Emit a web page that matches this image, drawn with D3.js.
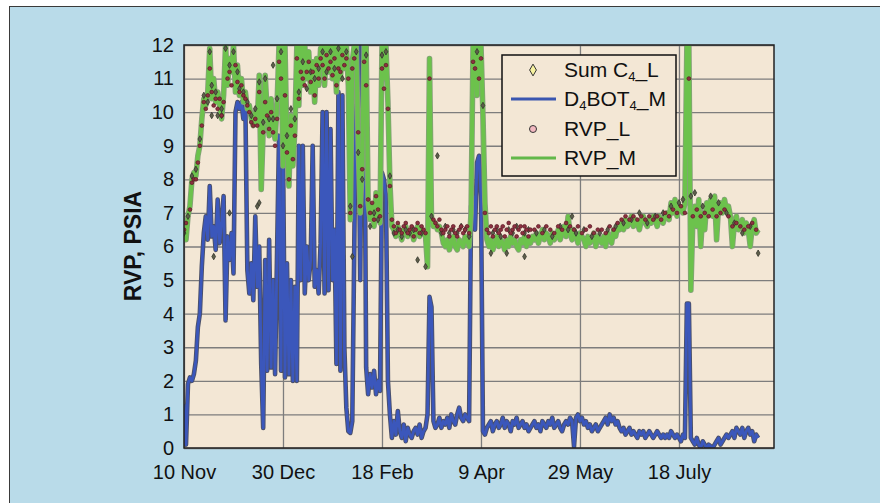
<!DOCTYPE html>
<html>
<head>
<meta charset="utf-8">
<script src="https://cdn.jsdelivr.net/npm/d3@7"></script>
<style>
  body { margin: 0; background: #fff; }
  svg { display: block; font-family: "Liberation Sans", Arial, Helvetica, sans-serif; }
  .axis text { fill: #111; font-size: 20px; }
  .axis .tick line { stroke: #7d7d7d; stroke-width: 1.3; }
  .axis .domain { display: none; }
</style>
</head>
<body>
<div id="chart"></div>
<script>
// day 0 = 10 Nov, one reading per day
var startDate = new Date(2002, 10, 10);
var tickDays = [0, 50, 100, 150, 200, 250];
var tickLabels = ["10 Nov", "30 Dec", "18 Feb", "9 Apr", "29 May", "18 July"];
var yTicks = [0, 1, 2, 3, 4, 5, 6, 7, 8, 9, 10, 11, 12];

// RVP_M (green line)
var rvpM = [
  6.6, 6.2, 6.9, 7.2, 8.0, 8.2, 8.1, 8.7, 9.0, 9.8,
  10.4, 10.2, 10.6, 11.9, 10.4, 11.0, 10.3, 10.6, 10.2, 9.8,
  10.5, 12.0, 10.8, 11.6, 11.2, 12.0, 10.6, 11.4, 10.5, 11.0,
  10.3, 10.6, 10.1, 10.2, 9.8, 9.6, 10.0, 9.7, 11.1, 7.7,
  9.5, 11.1, 10.0, 9.3, 10.4, 9.6, 9.2, 10.2, 12.0, 12.0,
  8.4, 12.0, 9.0, 7.8, 9.9, 8.4, 9.5, 12.0, 10.2, 12.0,
  10.8, 12.0, 11.0, 11.8, 10.6, 11.5, 10.3, 11.6, 10.8, 11.9,
  12.0, 10.8, 12.0, 11.2, 12.0, 11.0, 12.0, 10.6, 12.0, 11.0,
  12.0, 11.3, 12.0, 10.8, 6.8, 11.5, 12.0, 12.0, 9.0, 7.0,
  8.5, 12.0, 12.0, 7.3, 6.8, 7.2, 6.6, 7.6, 7.0, 6.7,
  12.0, 11.0, 12.0, 10.3, 7.9, 6.6, 6.5, 6.3, 6.6, 6.4,
  6.2, 6.5, 6.6, 6.3, 6.4, 6.5, 6.2, 6.4, 6.6, 6.3,
  6.5, 6.4, 6.3, 5.4, 11.6, 6.8, 6.6, 6.7, 6.5, 6.6,
  6.4, 6.1, 6.0, 6.2, 5.9, 6.1, 6.3, 6.0, 5.9, 6.2,
  6.1, 6.0, 6.3, 6.2, 6.0, 7.0, 12.0, 12.0, 10.5, 12.0,
  12.0, 9.9, 7.3, 6.2, 6.0, 6.2, 5.9, 6.1, 6.3, 6.0,
  6.2, 6.1, 5.9, 6.2, 6.0, 6.3, 6.1, 6.2, 6.0, 5.9,
  6.2, 6.1, 6.3, 6.0, 6.2, 6.1, 6.3, 6.2, 6.4, 6.1,
  6.3, 6.5, 6.2, 6.4, 6.3, 6.1, 6.4, 6.2, 6.3, 6.5,
  6.2, 6.4, 6.6, 6.3, 6.9, 6.4, 6.2, 6.5, 6.3, 6.1,
  6.4, 6.3, 6.2, 6.0, 6.3, 6.1, 6.2, 6.4, 6.0, 6.3,
  6.2, 6.1, 6.3, 6.0, 6.4, 6.2, 6.1, 6.5, 6.3, 6.6,
  6.5, 6.7, 6.5, 6.8, 6.6, 6.7, 6.9, 6.6, 6.8, 6.7,
  6.5, 6.8, 6.9, 6.7, 6.6, 6.8, 6.7, 6.9, 6.8, 6.6,
  6.9, 6.8, 6.7, 6.9, 7.0, 6.8, 7.3, 7.0, 7.4, 6.9,
  7.2, 7.1, 7.0, 7.3, 12.0, 12.0, 4.7, 6.8, 7.2, 6.6,
  7.4, 6.0, 7.0, 6.5, 7.3, 7.0, 7.4, 6.9, 7.5, 6.2,
  7.2, 7.3, 7.0, 7.4, 7.1, 7.2, 6.9, 6.0, 6.7, 6.9,
  6.5, 6.6, 6.8, 6.4, 6.7, 6.5, 6.0, 6.6, 6.8, 6.4, 6.5
];

// D4BOT4_M (blue line)
var d4bot4M = [
  1.3, 0.1, 1.9, 2.1, 2.0, 2.2, 2.6, 3.6, 4.0, 5.4,
  6.4, 6.9, 6.2, 7.8, 6.3, 6.6, 5.9, 7.4, 6.1, 6.7,
  7.5, 3.8, 6.3, 5.6, 6.4, 5.2, 10.0, 10.3, 10.1, 10.3,
  9.8, 10.2, 5.3, 4.6, 5.5, 4.4, 6.9, 4.8, 6.0, 2.5,
  0.6, 5.6, 2.3, 6.2, 2.4, 5.0, 2.2, 5.8, 9.3, 2.3,
  9.0, 2.1, 5.5, 2.2, 5.0, 2.0, 4.8, 2.0, 9.0, 5.0,
  9.0, 4.6, 6.0, 5.0, 5.6, 9.0, 4.8, 5.3, 4.6, 6.1,
  10.0, 4.6, 10.0, 4.7, 9.5, 5.0, 6.5, 2.5, 10.6, 2.3,
  10.5, 3.0, 1.2, 0.5, 0.45, 0.8, 6.0, 12.0, 12.0, 5.0,
  12.0, 12.0, 2.4, 1.6, 2.2, 1.8, 2.3, 1.6, 2.0, 1.7,
  8.2, 8.0, 7.5, 2.0, 1.0, 0.3, 0.8, 0.4, 1.1, 0.5,
  0.3, 0.7, 0.2, 0.6, 0.4, 0.3, 0.5, 0.6, 0.4, 0.7,
  0.3, 0.5, 0.6, 1.0, 4.5, 4.2, 0.8, 0.6, 0.7, 0.9,
  0.6, 0.8, 0.7, 0.9, 0.6, 1.0, 0.8, 0.7, 1.0, 1.2,
  0.9, 0.8, 1.0, 0.9, 0.8, 7.2, 7.5, 6.5, 8.5, 8.7,
  7.5, 0.5, 0.4, 0.6, 0.7, 0.8, 0.5, 0.7, 0.8, 0.6,
  0.7, 0.9, 0.6, 0.8, 0.7, 0.5, 0.8, 0.7, 0.9, 0.6,
  0.7, 0.8, 0.6, 0.7, 0.5, 0.6, 0.7, 0.8, 0.6, 0.7,
  0.5, 0.8, 0.7, 0.6, 0.8, 0.7, 0.9, 0.6, 0.7, 0.8,
  0.6, 0.5, 0.7, 0.8, 0.7, 0.9, 0.8, 0.05, 0.9, 1.0,
  0.8, 0.9, 0.7, 0.8, 0.6, 0.7, 0.5, 0.6, 0.7, 0.5,
  0.6, 0.7, 0.8, 0.9, 0.7, 1.0, 0.8, 0.9, 0.7, 0.8,
  0.6, 0.5, 0.6, 0.4, 0.5, 0.6, 0.4, 0.5, 0.4, 0.3,
  0.5, 0.4, 0.5, 0.3, 0.4, 0.5, 0.4, 0.3, 0.4, 0.5,
  0.4, 0.3, 0.4, 0.3, 0.4, 0.3, 0.5, 0.4, 0.3, 0.4,
  0.3, 0.2, 0.4, 0.3, 4.3, 4.3, 0.3, 0.2, 0.1, 0.3,
  0.1, 0.0, 0.2, 0.1, 0.0, 0.1, 0.05, 0.0, 0.1, 0.2,
  0.3, 0.1, 0.2, 0.3, 0.4, 0.3, 0.4, 0.5, 0.3, 0.6,
  0.5, 0.4, 0.6, 0.3, 0.5, 0.6, 0.4, 0.5, 0.2, 0.4, 0.3
];

// RVP_L lab samples [day, value]
var rvpL = [
  [0,6.5],[1,6.7],[3,7.1],[4,7.9],[5,8.0],[6,8.0],[7,8.5],[8,9.0],[9,9.6],[10,10.3],
  [11,10.1],[12,10.5],[13,11.3],[14,10.6],[15,10.2],[16,10.4],[17,10.1],[18,10.4],[19,9.9],[20,10.3],
  [22,11.0],[23,11.2],[24,10.8],[26,11.4],[27,10.9],[28,10.6],[29,10.8],[30,10.5],[31,10.4],[32,10.2],
  [33,10.0],[34,9.7],[35,9.6],[36,9.8],[37,9.6],[38,10.6],[40,9.4],[41,10.3],[42,9.9],[43,9.5],
  [44,10.0],[45,9.4],[46,9.0],[47,9.8],[48,11.5],[49,11.0],[51,10.5],[52,8.8],[53,8.0],[54,9.6],
  [55,8.6],[56,9.3],[57,11.6],[58,10.4],[59,11.2],[60,11.0],[61,10.8],[62,11.2],[63,11.5],[64,10.9],
  [65,11.2],[66,10.5],[67,11.4],[68,11.0],[69,11.6],[70,11.4],[71,11.0],[72,11.7],[73,11.3],[74,11.5],
  [75,11.1],[76,11.6],[77,10.8],[78,11.3],[79,11.2],[80,11.7],[81,11.4],[82,11.6],[83,11.0],[84,7.0],
  [85,11.3],[86,11.6],[88,9.4],[89,7.2],[90,8.3],[91,11.5],[92,10.8],[93,7.4],[94,7.0],[95,7.3],
  [96,6.8],[97,7.5],[98,7.1],[99,6.9],[100,11.3],[101,10.7],[102,11.4],[103,10.1],[104,7.8],[105,6.8],
  [106,6.6],[107,6.4],[108,6.7],[109,6.5],[110,6.4],[111,6.6],[112,6.7],[113,6.4],[114,6.5],[115,6.6],
  [116,6.3],[117,6.5],[118,6.7],[119,6.4],[120,6.6],[121,6.5],[122,6.4],[124,11.0],[126,6.8],[127,6.7],
  [128,6.6],[129,6.8],[130,6.5],[131,6.4],[132,6.5],[133,6.6],[134,6.3],[135,6.5],[136,6.6],[137,6.4],
  [138,6.3],[139,6.5],[140,6.6],[141,6.4],[142,6.5],[143,6.6],[144,6.4],[146,11.5],[147,11.3],[149,11.0],
  [150,11.6],[152,7.0],[153,6.5],[154,6.4],[155,6.6],[156,6.3],[157,6.5],[158,6.6],[159,6.4],[160,6.5],
  [161,6.6],[162,6.3],[163,6.5],[164,6.7],[165,6.4],[166,6.5],[167,6.6],[168,6.3],[169,6.5],[170,6.6],
  [171,6.4],[172,6.6],[173,6.5],[174,6.3],[175,6.5],[177,6.5],[179,6.6],[181,6.4],[183,6.6],[185,6.5],
  [187,6.4],[189,6.6],[191,6.5],[193,6.7],[195,6.6],[197,6.5],[199,6.6],[201,6.4],[203,6.5],[205,6.6],
  [207,6.4],[209,6.5],[211,6.5],[213,6.4],[215,6.6],[217,6.5],[219,6.7],[221,6.8],[223,6.9],[225,6.8],
  [227,6.9],[229,6.8],[231,6.9],[233,6.8],[235,6.9],[237,6.8],[239,6.9],[241,6.8],[243,7.0],[245,6.9],
  [247,7.1],[249,7.0],[251,7.2],[253,7.0],[255,11.0],[257,6.9],[259,7.1],[261,6.9],[263,7.0],[265,6.9],
  [267,7.1],[269,6.9],[271,7.0],[273,7.1],[275,6.9],[277,6.6],[279,6.7],[281,6.6],[283,6.5],[285,6.6],
  [287,6.7],[289,6.5]
];

// Sum C4_L lab samples [day, value]
var sumC4L = [
  [0,6.4],[2,6.9],[4,8.1],[6,8.3],[8,9.2],[10,10.5],[12,10.3],[13,11.8],[14,10.8],[14,9.9],
  [15,5.7],[16,10.6],[17,9.9],[19,10.1],[19,9.9],[21,11.9],[23,11.4],[23,7.0],[25,11.8],[27,11.2],
  [28,10.7],[30,10.6],[32,10.3],[34,9.9],[36,10.1],[37,7.2],[38,7.3],[38,10.9],[40,9.7],[41,11.0],
  [43,9.8],[45,9.8],[45,11.4],[47,10.4],[49,11.8],[50,9.0],[52,9.3],[54,10.1],[56,9.8],[58,10.6],
  [60,11.5],[62,10.7],[64,11.2],[66,11.0],[68,11.3],[70,11.8],[72,11.2],[74,11.8],[76,11.3],[78,11.9],
  [80,11.0],[82,11.8],[84,7.2],[85,5.7],[87,11.8],[88,8.8],[90,8.0],[92,11.7],[94,6.6],[96,7.0],
  [98,6.8],[100,11.7],[102,11.8],[104,8.1],[106,6.4],[108,6.5],[110,6.3],[112,6.5],[114,6.4],[116,6.5],
  [118,5.6],[120,6.4],[122,5.4],[125,6.9],[128,8.7],[130,6.4],[132,6.6],[134,6.4],[136,6.5],[138,6.4],
  [140,6.6],[142,6.5],[144,6.3],[148,11.8],[151,10.2],[155,5.8],[156,6.4],[158,6.5],[160,6.3],[163,5.8],
  [164,6.5],[166,6.4],[168,6.6],[172,5.7],[172,6.4],[174,6.5],[178,6.4],[182,6.5],[186,6.3],[190,6.6],
  [194,6.5],[196,6.9],[198,6.4],[202,6.5],[206,6.3],[210,6.4],[214,6.5],[218,6.6],[222,6.7],[226,6.8],
  [230,7.0],[234,6.7],[238,6.9],[242,7.0],[246,7.2],[250,7.3],[252,7.4],[256,7.5],[258,7.6],[262,7.2],
  [266,7.5],[270,7.3],[274,7.0],[278,6.7],[282,6.4],[286,6.6],[290,5.8]
];

var width = 880, height = 503;
var plot = { left: 184, right: 774, top: 45, bottom: 448 };

var dayDate = function (i) { return d3.timeDay.offset(startDate, i); };

var xScale = d3.scaleTime()
  .domain([startDate, dayDate(298)])
  .range([plot.left, plot.right]);
var yScale = d3.scaleLinear()
  .domain([0, 12])
  .range([plot.bottom, plot.top]);

var svg = d3.select("#chart").append("svg")
  .attr("width", width).attr("height", height);

// outer panel
svg.append("rect")
  .attr("x", 9.5).attr("y", 6.5)
  .attr("width", width).attr("height", height)
  .attr("fill", "#b9dbe9").attr("stroke", "#3a3a3a").attr("stroke-width", 1);

svg.append("rect")
  .attr("x", plot.left).attr("y", plot.top)
  .attr("width", plot.right - plot.left).attr("height", plot.bottom - plot.top)
  .attr("fill", "#f3e7d5");

svg.append("clipPath").attr("id", "clip").append("rect")
  .attr("x", plot.left).attr("y", plot.top)
  .attr("width", plot.right - plot.left).attr("height", plot.bottom - plot.top);

// axes with grid lines
svg.append("g").attr("class", "axis")
  .attr("transform", "translate(0," + plot.bottom + ")")
  .call(d3.axisBottom(xScale)
    .tickValues(tickDays.map(dayDate))
    .tickFormat(function (d, i) { return tickLabels[i]; })
    .tickSize(-(plot.bottom - plot.top))
    .tickPadding(17));

svg.append("g").attr("class", "axis")
  .attr("transform", "translate(" + plot.left + ",0)")
  .call(d3.axisLeft(yScale)
    .tickValues(yTicks)
    .tickFormat(d3.format("d"))
    .tickSize(-(plot.right - plot.left))
    .tickPadding(10));

svg.append("text")
  .attr("transform", "translate(141,246) rotate(-90)")
  .attr("text-anchor", "middle")
  .attr("font-size", 23).attr("font-weight", "bold").attr("fill", "#111")
  .text("RVP, PSIA");

var g = svg.append("g").attr("clip-path", "url(#clip)");

var line = d3.line()
  .x(function (d, i) { return xScale(dayDate(i)); })
  .y(function (d) { return yScale(d); });

g.append("path").attr("d", line(d4bot4M))
  .attr("fill", "none").attr("stroke", "#4b5068").attr("stroke-width", 4.6)
  .attr("stroke-linejoin", "round");
g.append("path").attr("d", line(d4bot4M))
  .attr("fill", "none").attr("stroke", "#3b57bb").attr("stroke-width", 2.8)
  .attr("stroke-linejoin", "round");

g.append("path").attr("d", line(rvpM))
  .attr("fill", "none").attr("stroke", "#86a07a").attr("stroke-width", 5.6)
  .attr("stroke-linejoin", "round");
g.append("path").attr("d", line(rvpM))
  .attr("fill", "none").attr("stroke", "#6cc24c").attr("stroke-width", 4)
  .attr("stroke-linejoin", "round");

var diamond = d3.symbol().type(d3.symbolDiamond);

g.selectAll(".sum").data(sumC4L).enter().append("path")
  .attr("class", "sum")
  .attr("d", diamond.size(12)())
  .attr("transform", function (d) { return "translate(" + xScale(dayDate(d[0])) + "," + yScale(d[1]) + ")"; })
  .attr("fill", "#5e5f4a").attr("stroke", "#34352c").attr("stroke-width", 0.8);

g.selectAll(".rvpl").data(rvpL).enter().append("circle")
  .attr("class", "rvpl")
  .attr("cx", function (d) { return xScale(dayDate(d[0])); })
  .attr("cy", function (d) { return yScale(d[1]); })
  .attr("r", 1.9)
  .attr("fill", "#8c3040").attr("stroke", "#5a1a24").attr("stroke-width", 0.7);

// plot frame
svg.append("rect")
  .attr("x", plot.left).attr("y", plot.top)
  .attr("width", plot.right - plot.left).attr("height", plot.bottom - plot.top)
  .attr("fill", "none").attr("stroke", "#222").attr("stroke-width", 1.5);

// legend
var lg = svg.append("g").attr("transform", "translate(502,55)");
lg.append("rect").attr("width", 174).attr("height", 121)
  .attr("fill", "#f3e7d5").attr("stroke", "#111").attr("stroke-width", 1.5);

var rowY = [15, 44, 74, 103];
lg.append("path").attr("d", d3.symbol().type(d3.symbolDiamond).size(40)())
  .attr("transform", "translate(31," + rowY[0] + ")")
  .attr("fill", "#f7f2a0").attr("stroke", "#333").attr("stroke-width", 1);
lg.append("line").attr("x1", 9).attr("x2", 54).attr("y1", rowY[1]).attr("y2", rowY[1])
  .attr("stroke", "#3a56b0").attr("stroke-width", 3);
lg.append("circle").attr("cx", 31).attr("cy", rowY[2]).attr("r", 3.5)
  .attr("fill", "#f2b8c0").attr("stroke", "#333").attr("stroke-width", 1);
lg.append("line").attr("x1", 9).attr("x2", 54).attr("y1", rowY[3]).attr("y2", rowY[3])
  .attr("stroke", "#62b84a").attr("stroke-width", 3);

var labelParts = [
  [["Sum C", 0], ["4", 1], ["_L", 0]],
  [["D", 0], ["4", 1], ["BOT", 0], ["4", 1], ["_M", 0]],
  [["RVP_L", 0]],
  [["RVP_M", 0]]
];
labelParts.forEach(function (parts, i) {
  var t = lg.append("text").attr("x", 62).attr("y", rowY[i] + 7)
    .attr("font-size", 21).attr("fill", "#111");
  var sub = false;
  parts.forEach(function (p) {
    var ts = t.append("tspan").text(p[0]);
    if (p[1]) { ts.attr("dy", 4).attr("font-size", 13); sub = true; }
    else if (sub) { ts.attr("dy", -4); sub = false; }
  });
});
</script>
</body>
</html>
